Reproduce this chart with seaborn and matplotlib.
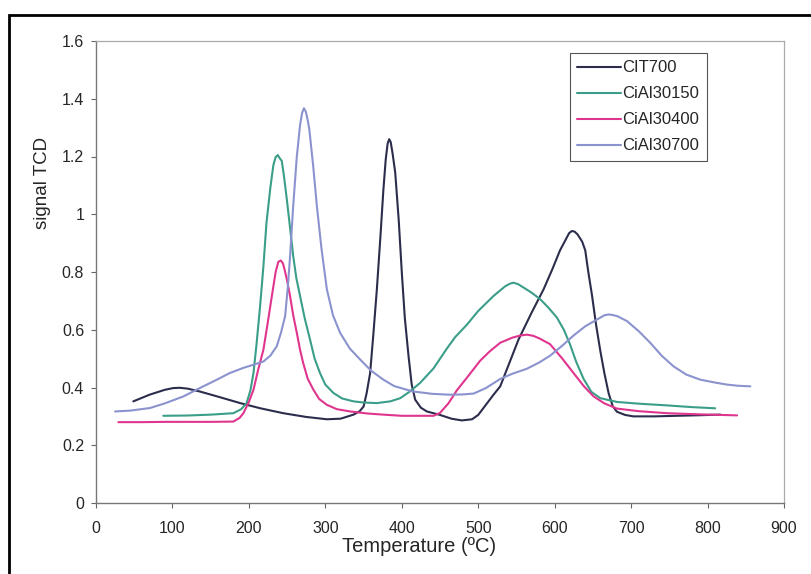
import matplotlib
matplotlib.use("Agg")
import matplotlib.pyplot as plt
import seaborn as sns
import pandas as pd
from matplotlib.patches import Rectangle

# ---- data ----
cit700_x = [48.8, 70, 90, 101, 110, 120, 136, 160, 188.5, 215, 245, 275, 302, 320, 336.8, 345, 350,
            354, 358.6, 363, 367.4, 372, 376, 379, 381.5, 383.5, 385.5, 388, 391.4, 396, 400, 404,
            408.8, 413, 417.5, 425, 432.8, 450, 465, 478.6, 492, 500, 510, 520, 528.8, 540, 552.7,
            570, 585.5, 597, 607, 615, 619, 622.6, 626, 630, 636, 640, 644, 648.8, 654, 659.7, 665,
            670.6, 676, 681.5, 692, 703, 730, 760, 790, 816.7]
cit700_y = [0.352, 0.375, 0.392, 0.398, 0.399, 0.396, 0.386, 0.368, 0.346, 0.328, 0.311, 0.298,
            0.290, 0.292, 0.306, 0.318, 0.334, 0.380, 0.450, 0.590, 0.740, 0.920, 1.087, 1.190,
            1.245, 1.260, 1.250, 1.210, 1.145, 0.980, 0.800, 0.640, 0.510, 0.410, 0.358, 0.330,
            0.317, 0.305, 0.292, 0.286, 0.290, 0.305, 0.340, 0.375, 0.404, 0.480, 0.566, 0.660,
            0.740, 0.810, 0.875, 0.915, 0.935, 0.942, 0.940, 0.930, 0.905, 0.875, 0.800, 0.720,
            0.620, 0.527, 0.450, 0.380, 0.335, 0.316, 0.305, 0.300, 0.300, 0.302, 0.304, 0.306]

ciai30150_x = [88, 120, 150, 179.7, 190, 197, 202, 206, 210, 214.6, 219, 223, 228, 232, 235, 237.8,
               240, 243, 246, 249.6, 254, 258, 262, 267, 273, 280, 286, 293, 300, 310.6, 322,
               336.8, 350, 367.4, 385, 398, 410, 424, 441.5, 459, 470, 485, 500, 520, 535, 541, 546,
               552, 560, 570, 581, 592, 603, 612, 620, 628, 637.8, 648, 659.7, 681.5, 710, 747, 780,
               810]
ciai30150_y = [0.302, 0.303, 0.306, 0.311, 0.325, 0.346, 0.390, 0.450, 0.550, 0.680, 0.820, 0.970,
               1.090, 1.170, 1.198, 1.205, 1.195, 1.185, 1.130, 1.052, 0.950, 0.855, 0.780, 0.716,
               0.640, 0.566, 0.500, 0.450, 0.410, 0.381, 0.362, 0.352, 0.348, 0.346, 0.352, 0.363,
               0.385, 0.416, 0.466, 0.535, 0.575, 0.617, 0.665, 0.717, 0.750, 0.759, 0.763, 0.758,
               0.745, 0.728, 0.706, 0.676, 0.642, 0.600, 0.550, 0.490, 0.430, 0.385, 0.363, 0.350,
               0.344, 0.338, 0.332, 0.328]

ciai30400_x = [29.2, 60, 90, 120, 150, 179.7, 188, 192.8, 200, 206, 212, 219, 225, 230, 235, 238.5,
               241.7, 244.5, 247, 250, 253.9, 258, 262.7, 267, 271, 277, 284.5, 292, 302, 315,
               332.5, 355, 376, 400, 420, 441.5, 450, 461, 472, 487, 502.6, 515, 528.8, 545, 555,
               563.7, 572, 580, 594, 610, 624.7, 638, 651, 665, 681.5, 710, 747, 790, 838.6]
ciai30400_y = [0.280, 0.280, 0.281, 0.281, 0.281, 0.282, 0.295, 0.311, 0.350, 0.392, 0.460, 0.531,
               0.630, 0.716, 0.800, 0.835, 0.840, 0.830, 0.805, 0.770, 0.716, 0.650, 0.589, 0.530,
               0.485, 0.430, 0.392, 0.360, 0.340, 0.325, 0.317, 0.310, 0.306, 0.302, 0.302, 0.302,
               0.312, 0.345, 0.390, 0.440, 0.493, 0.525, 0.555, 0.573, 0.580, 0.583, 0.579, 0.570,
               0.550, 0.500, 0.450, 0.405, 0.369, 0.345, 0.327, 0.318, 0.311, 0.307, 0.3035]

ciai30700_x = [24.9, 45, 70.7, 90, 114.3, 135, 158, 175, 192.8, 205, 219, 228, 236.5, 242, 247.4,
               251, 253.9, 258, 262.7, 267, 269.5, 272, 274.5, 277, 279, 284, 288.9, 295, 302, 310,
               319.4, 332, 345.5, 360, 376, 390, 406.7, 415.5, 440, 463, 480, 494, 510, 529, 545,
               563.7, 580, 594, 610, 624.7, 640, 659.7, 665, 670.6, 676, 682, 694.6, 710, 725, 740,
               755.6, 772, 790.6, 810, 825.5, 840, 856]
ciai30700_y = [0.317, 0.320, 0.329, 0.345, 0.369, 0.397, 0.427, 0.450, 0.468, 0.478, 0.490, 0.510,
               0.543, 0.590, 0.647, 0.750, 0.855, 1.030, 1.200, 1.310, 1.350, 1.367, 1.355, 1.325,
               1.295, 1.170, 1.029, 0.880, 0.740, 0.650, 0.589, 0.535, 0.497, 0.458, 0.427, 0.405,
               0.392, 0.386, 0.378, 0.375, 0.376, 0.379, 0.398, 0.430, 0.448, 0.465, 0.487, 0.510,
               0.545, 0.580, 0.612, 0.642, 0.650, 0.653, 0.651, 0.647, 0.630, 0.595, 0.555, 0.510,
               0.473, 0.445, 0.427, 0.417, 0.410, 0.406, 0.404]

series_names = ["CIT700", "CiAl30150", "CiAl30400", "CiAl30700"]
series_colors = ["#2c2d4c", "#3b9e88", "#e0358e", "#8b93cf"]

x_ticks = [0, 100, 200, 300, 400, 500, 600, 700, 800, 900]
y_ticks = [0, 0.2, 0.4, 0.6, 0.8, 1.0, 1.2, 1.4, 1.6]
y_tick_labels = ["0", "0.2", "0.4", "0.6", "0.8", "1", "1.2", "1.4", "1.6"]

# ---- build long-form table ----
xs = [cit700_x, ciai30150_x, ciai30400_x, ciai30700_x]
ys = [cit700_y, ciai30150_y, ciai30400_y, ciai30700_y]
frames = []
for name, xv, yv in zip(series_names, xs, ys):
    frames.append(pd.DataFrame({"Temperature": xv, "signal": yv, "sample": name}))
df = pd.concat(frames, ignore_index=True)

sns.set_style("white")
plt.rcParams["font.family"] = ["Liberation Sans", "DejaVu Sans"]

fig = plt.figure(figsize=(8.12, 5.74), dpi=100)
ax = fig.add_axes([96 / 812, 1 - 503 / 574, (784 - 96) / 812, (503 - 41) / 574])

sns.lineplot(data=df, x="Temperature", y="signal", hue="sample", hue_order=series_names,
             palette=series_colors, sort=False, estimator=None, linewidth=1.5, ax=ax)

ax.set_xlim(0, 900)
ax.set_ylim(0, 1.6)
ax.set_xticks(x_ticks)
ax.set_xticklabels([str(t) for t in x_ticks])
ax.set_yticks(y_ticks)
ax.set_yticklabels(y_tick_labels)
ax.tick_params(axis="both", direction="out", length=3.5, width=0.8, color="#666666",
               labelsize=11.5, bottom=True, left=True)
ax.tick_params(axis="x", pad=9.5)
ax.tick_params(axis="y", pad=5)
ax.set_xlabel("Temperature (ºC)", fontsize=14.5)
ax.set_ylabel("signal TCD", fontsize=13.5)
# label positions as in the reference (xlabel slightly left of centre, ylabel high)
ax.xaxis.set_label_coords((419 - 96) / 688, -(547 - 503) / 462, transform=ax.transAxes)
ax.xaxis.label.set_va("center")
ax.yaxis.set_label_coords(-(96 - 43) / 688, (503 - 183) / 462, transform=ax.transAxes)
ax.yaxis.label.set_va("center")

for side in ["left", "bottom"]:
    ax.spines[side].set_color("#777777")
    ax.spines[side].set_linewidth(1.0)
for side in ["top", "right"]:
    ax.spines[side].set_color("#aaaaaa")
    ax.spines[side].set_linewidth(0.9)

leg = ax.legend(loc="upper left", bbox_to_anchor=((570 - 96) / 688, (503 - 53) / 462),
                fontsize=12, frameon=True, fancybox=False, framealpha=1,
                edgecolor="#555555", handlelength=2.6, handletextpad=0.1,
                labelspacing=0.66, borderpad=0.45, borderaxespad=0)
leg.get_frame().set_linewidth(0.8)

# outer black frame of the scanned figure
fig.patches.append(Rectangle((9 / 812, -0.05), 1.0, 1 - 15 / 574 + 0.05,
                             transform=fig.transFigure, fill=False,
                             edgecolor="black", linewidth=2.0))

fig.savefig("out.png", dpi=100)
